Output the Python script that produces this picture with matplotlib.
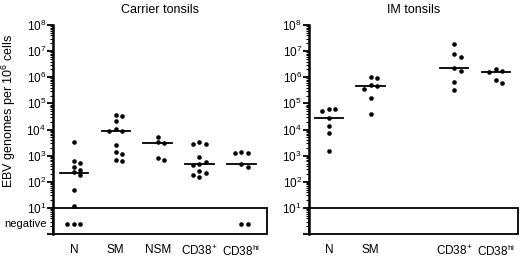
import numpy as np
import matplotlib.pyplot as plt
from matplotlib.ticker import LogLocator, NullFormatter, FuncFormatter

plt.rcParams['font.family'] = ['Liberation Sans', 'DejaVu Sans']
plt.rcParams['mathtext.fontset'] = 'custom'
plt.rcParams['mathtext.rm'] = 'Liberation Sans'
plt.rcParams['mathtext.it'] = 'Liberation Sans:italic'
plt.rcParams['mathtext.bf'] = 'Liberation Sans:bold'

# EBV genomes per 10^6 cells
carrier_labels = ['N', 'SM', 'NSM', 'CD38$^{+}$', 'CD38$^{\\mathrm{hi}}$']
carrier_N = [3240, 646, 537, 363, 282, 234, 182, 49, 12]
carrier_SM = [37000, 33000, 22000, 10200, 9100, 9100, 2600, 1350, 1170, 690, 630]
carrier_NSM = [5000, 3200, 3150, 800, 690]
carrier_CD38p = [3240, 2750, 2690, 870, 575, 490, 457, 263, 224, 174, 148]
carrier_CD38hi = [1380, 1290, 1230, 480, 370]
carrier_neg = [3, 0, 0, 0, 2]  # samples below detection

im_labels = ['N', 'SM', '', 'CD38$^{+}$', 'CD38$^{\\mathrm{hi}}$']
im_N = [61700, 60300, 52500, 26900, 13200, 7600, 1500]
im_SM = [1.05e6, 9.3e5, 5.2e5, 4.7e5, 3.6e5, 1.6e5, 3.8e4]
im_NSM = []
im_CD38p = [1.8e7, 7.9e6, 6.0e6, 2.2e6, 1.7e6, 6.5e5, 3.4e5]
im_CD38hi = [2.0e6, 1.7e6, 1.66e6, 7.9e5, 6.2e5]
im_neg = [0, 0, 0, 0, 0]

NEG_Y = 10 ** 0.38  # where the "negative" dots sit inside the box


def swarm(vals, step=0.155, thr=0.19):
    # spread points with close log values sideways: centre, right, left ...
    slots = [0, 1, -1, 2, -2]
    placed = []
    offs = []
    for v in vals:
        lv = np.log10(v)
        for s in slots:
            if all(not (ps == s and abs(pv - lv) < thr) for ps, pv in placed):
                placed.append((s, lv))
                offs.append(s * step)
                break
    return offs


def panel(ax, groups, negs, labels, title, xlim):
    for i, (vals, nneg) in enumerate(zip(groups, negs)):
        if len(vals) == 0:
            continue
        order = sorted(vals, reverse=True)
        offs = swarm(order)
        ax.plot(i + np.array(offs), order, 'o', color='black', ms=3.3, mec='none', clip_on=False)
        if nneg:
            noff = swarm([NEG_Y] * nneg)
            ax.plot(i + np.array(noff), [NEG_Y] * nneg, 'o', color='black', ms=3.3, mec='none')
        med = np.median(list(vals) + [0] * nneg)
        ax.plot([i - 0.34, i + 0.34], [med, med], color='black', lw=1.3)

    ax.set_yscale('log')
    ax.set_ylim(1, 1e8)
    ax.set_xlim(*xlim)
    ax.axhspan(1, 10, fill=False, ec='black', lw=1.3, clip_on=False)
    for s in ['top', 'right', 'bottom']:
        ax.spines[s].set_visible(False)
    ax.spines['left'].set_linewidth(1.8)
    ax.spines['left'].set_bounds(1, 1e8)

    ax.yaxis.set_major_locator(LogLocator(base=10, numticks=20))
    ax.yaxis.set_minor_locator(LogLocator(base=10, subs=np.arange(2, 10), numticks=20))
    ax.yaxis.set_minor_formatter(NullFormatter())
    ax.yaxis.set_major_formatter(FuncFormatter(
        lambda v, p: '10$^{%d}$' % round(np.log10(v)) if 10 <= v <= 1e8 else ''))
    ax.tick_params(axis='y', which='major', length=4, width=1.3, labelsize=8.5, pad=1)
    ax.tick_params(axis='y', which='minor', length=2.5, width=0.8)

    ax.set_xticks(range(len(labels)))
    ax.set_xticklabels(labels)
    ax.tick_params(axis='x', length=0, labelsize=8.5, pad=7)
    ax.set_title(title, fontsize=9, pad=9)


fig = plt.figure(figsize=(5.2, 2.58), dpi=100)
ax1 = fig.add_axes([0.102, 0.093, 0.412, 0.810])
ax2 = fig.add_axes([0.594, 0.093, 0.402, 0.810])

panel(ax1, [carrier_N, carrier_SM, carrier_NSM, carrier_CD38p, carrier_CD38hi],
      carrier_neg, carrier_labels, 'Carrier tonsils', (-0.5, 4.62))
panel(ax2, [im_N, im_SM, im_NSM, im_CD38p, im_CD38hi],
      im_neg, im_labels, 'IM tonsils', (-0.48, 4.53))

ax1.set_ylabel('EBV genomes per 10$^{6}$ cells', fontsize=9)
ax1.yaxis.set_label_coords(-0.163, 0.59)
ax1.text(-0.13, NEG_Y, 'negative', transform=ax1.get_yaxis_transform(),
         ha='center', va='center', fontsize=8)

fig.savefig('out.png', dpi=100)
